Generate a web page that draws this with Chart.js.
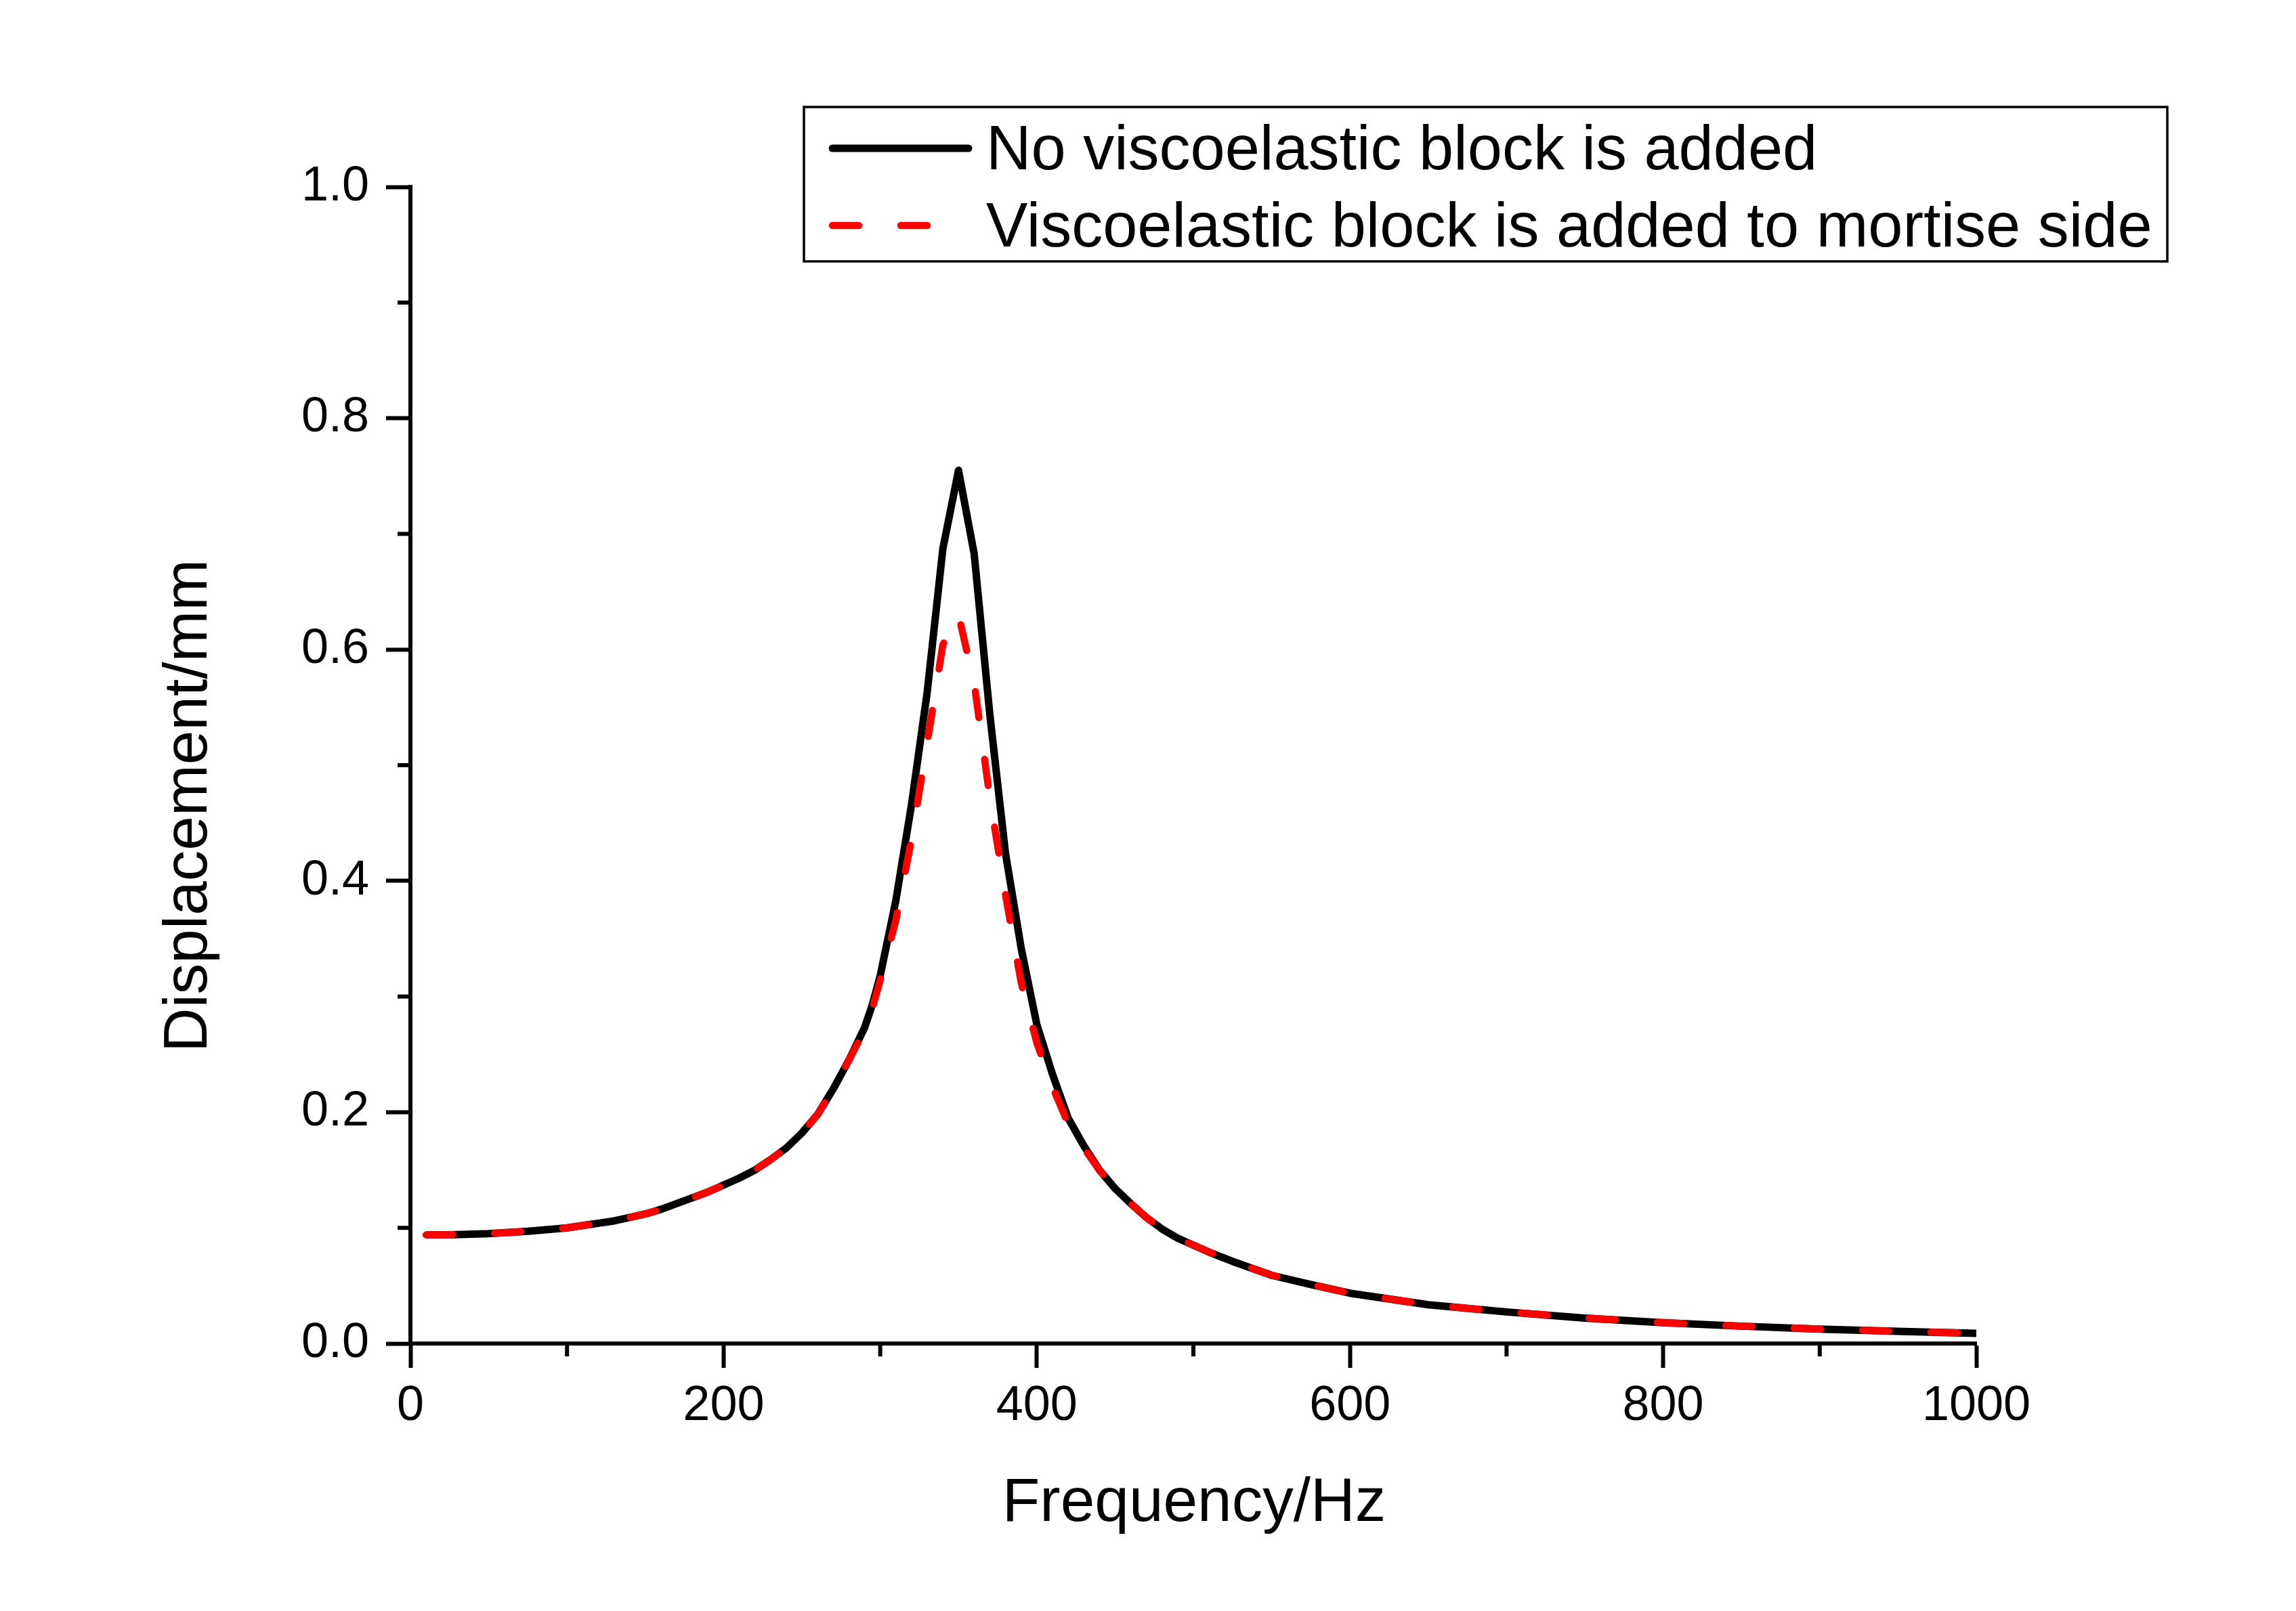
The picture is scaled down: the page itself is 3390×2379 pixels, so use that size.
<!DOCTYPE html>
<html>
<head>
<meta charset="utf-8">
<style>
html,body{margin:0;padding:0;background:#fff;}
#wrap{width:3390px;height:2379px;position:relative;background:#fff;}
canvas{display:block;}
</style>
<script src="https://cdn.jsdelivr.net/npm/chart.js@4.4.0/dist/chart.umd.min.js"></script>
</head>
<body>
<div id="wrap"><canvas id="c" width="3390" height="2379"></canvas></div>
<script>
// ---- data ----
const frequency = [10,25,50,75,100,110,120,130,140,150,160,170,180,190,200,210,220,230,240,250,260,270,280,285,290,295,300,310,320,330,340,350,360,370,380,390,400,410,420,430,440,450,460,470,480,490,500,510,525,550,575,600,650,700,750,800,850,900,950,1000];
const noBlock = [0.094,0.094,0.095,0.097,0.100,0.102,0.104,0.106,0.109,0.112,0.116,0.121,0.126,0.131,0.137,0.143,0.150,0.159,0.169,0.182,0.198,0.220,0.245,0.259,0.273,0.293,0.318,0.383,0.466,0.563,0.687,0.755,0.683,0.544,0.424,0.342,0.276,0.233,0.195,0.171,0.150,0.134,0.121,0.109,0.099,0.091,0.085,0.079,0.071,0.059,0.051,0.0435,0.0335,0.0273,0.022,0.018,0.015,0.0125,0.0105,0.0088];
const mortiseSide = [0.094,0.094,0.095,0.097,0.100,0.102,0.104,0.106,0.109,0.112,0.116,0.121,0.126,0.131,0.137,0.143,0.150,0.159,0.169,0.182,0.198,0.220,0.245,0.258,0.271,0.290,0.314,0.366,0.436,0.519,0.604,0.630,0.571,0.472,0.388,0.312,0.260,0.222,0.190,0.169,0.150,0.134,0.121,0.109,0.099,0.091,0.085,0.079,0.071,0.059,0.051,0.0435,0.0335,0.0273,0.022,0.018,0.015,0.0125,0.0105,0.0088];
const seriesLabels = ['No viscoelastic block is added','Viscoelastic block is added to mortise side'];
const xMajorTicks = [0,200,400,600,800,1000];
const yMajorTicks = [0.0,0.2,0.4,0.6,0.8,1.0];
const xTitle = 'Frequency/Hz';
const yTitle = 'Displacement/mm';

const FONT = "'Liberation Sans', Arial, sans-serif";

function toPoints(xs, ys){ return xs.map((x,i)=>({x:x, y:ys[i]})); }
function isMajorX(v){ return xMajorTicks.some(t=>Math.abs(t-v)<1e-6); }
function isMajorY(v){ return yMajorTicks.some(t=>Math.abs(t-v)<1e-6); }

const minorTicksPlugin = {
  id:'minorTicks',
  afterDraw(chart){
    const ctx = chart.ctx, xs = chart.scales.x, ys = chart.scales.y;
    ctx.save();
    ctx.strokeStyle = '#000';
    ctx.lineWidth = 6;
    ctx.lineCap = 'butt';
    xs.ticks.forEach(t=>{
      if(!isMajorX(t.value)){
        const px = xs.getPixelForValue(t.value);
        ctx.beginPath(); ctx.moveTo(px, xs.top+3); ctx.lineTo(px, xs.top+19); ctx.stroke();
      }
    });
    ys.ticks.forEach(t=>{
      if(!isMajorY(t.value)){
        const py = ys.getPixelForValue(t.value);
        ctx.beginPath(); ctx.moveTo(ys.right-3, py); ctx.lineTo(ys.right-19, py); ctx.stroke();
      }
    });
    ctx.restore();
  }
};

const titlesPlugin = {
  id:'axisTitles',
  afterDraw(chart){
    const ctx = chart.ctx, xs = chart.scales.x, ys = chart.scales.y;
    ctx.save();
    ctx.fillStyle = '#000';
    ctx.font = '91px ' + FONT;
    ctx.textAlign = 'center';
    ctx.textBaseline = 'alphabetic';
    ctx.fillText(xTitle, (xs.left + xs.right)/2 + 1, 2246);
    ctx.translate(305, (ys.top + ys.bottom)/2 + 60);
    ctx.rotate(-Math.PI/2);
    ctx.fillText(yTitle, 0, 0);
    ctx.restore();
  }
};

const legendPlugin = {
  id:'boxLegend',
  afterDraw(chart){
    const ctx = chart.ctx;
    const ds = chart.data.datasets;
    const box = {l:1187, t:158, r:3200, b:386};
    ctx.save();
    ctx.strokeStyle = '#000';
    ctx.lineWidth = 3.5;
    ctx.strokeRect(box.l, box.t, box.r - box.l, box.b - box.t);
    const rows = [219, 333];
    const baselines = [250, 364];
    ds.forEach((d,i)=>{
      ctx.save();
      ctx.strokeStyle = d.borderColor;
      ctx.lineWidth = d.borderWidth;
      ctx.lineCap = 'round';
      if(d.borderDash && d.borderDash.length){
        ctx.setLineDash(d.borderDash);
        ctx.beginPath(); ctx.moveTo(1229, rows[i]); ctx.lineTo(1372, rows[i]); ctx.stroke();
      } else {
        ctx.beginPath(); ctx.moveTo(1229, rows[i]); ctx.lineTo(1430, rows[i]); ctx.stroke();
      }
      ctx.restore();
      ctx.fillStyle = '#000';
      ctx.font = '92px ' + FONT;
      ctx.textAlign = 'left';
      ctx.textBaseline = 'alphabetic';
      ctx.fillText(d.label, 1456, baselines[i]);
    });
    ctx.restore();
  }
};

new Chart(document.getElementById('c'), {
  type:'line',
  data:{
    datasets:[
      {
        label: seriesLabels[0],
        data: toPoints(frequency, noBlock),
        borderColor:'#000000',
        borderWidth:11,
        pointRadius:0,
        tension:0,
        borderJoinStyle:'round',
        borderCapStyle:'butt',
        fill:false,
        order:2
      },
      {
        label: seriesLabels[1],
        data: toPoints(frequency, mortiseSide),
        borderColor:'#ff0000',
        borderWidth:10.5,
        borderDash:[39,62],
        borderCapStyle:'round',
        borderJoinStyle:'round',
        pointRadius:0,
        tension:0,
        fill:false,
        order:1
      }
    ]
  },
  options:{
    responsive:false,
    devicePixelRatio:1,
    animation:false,
    layout:{padding:{left:0, right:472, top:276, bottom:0}},
    plugins:{legend:{display:false}, tooltip:{enabled:false}, title:{display:false}},
    scales:{
      x:{
        type:'linear', min:0, max:1000,
        afterFit(s){ s.height = 395; },
        ticks:{
          stepSize:100, autoSkip:false, maxRotation:0, minRotation:0,
          padding:14, color:'#000',
          font:{family:FONT, size:72},
          callback:(v)=> isMajorX(v) ? String(v) : ''
        },
        grid:{
          display:true, drawOnChartArea:false, drawTicks:true,
          tickLength:36, tickWidth:6,
          tickColor:(c)=> (c.tick && isMajorX(c.tick.value)) ? '#000' : 'rgba(0,0,0,0)'
        },
        border:{display:true, color:'#000', width:6}
      },
      y:{
        type:'linear', min:0, max:1,
        afterFit(s){ s.width = 606; },
        ticks:{
          stepSize:0.1, autoSkip:false,
          padding:25, color:'#000',
          font:{family:FONT, size:72},
          callback:(v)=> isMajorY(v) ? v.toFixed(1) : ''
        },
        grid:{
          display:true, drawOnChartArea:false, drawTicks:true,
          tickLength:36, tickWidth:6,
          tickColor:(c)=> (c.tick && isMajorY(c.tick.value)) ? '#000' : 'rgba(0,0,0,0)'
        },
        border:{display:true, color:'#000', width:6}
      }
    }
  },
  plugins:[minorTicksPlugin, titlesPlugin, legendPlugin]
});
</script>
</body>
</html>
